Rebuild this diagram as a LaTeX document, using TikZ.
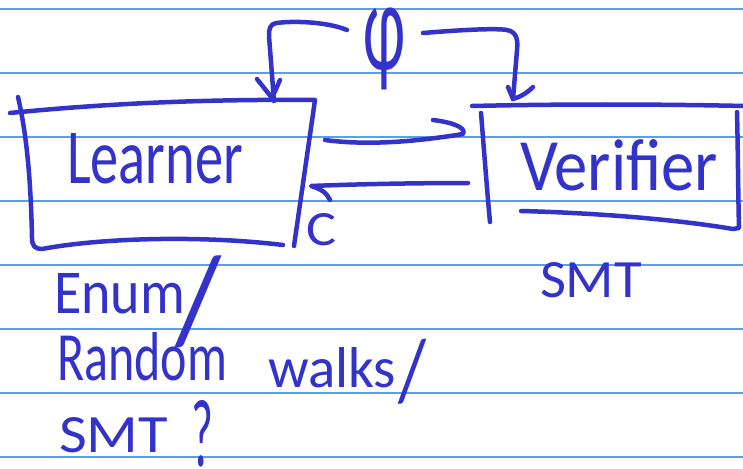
\documentclass[tikz,border=0pt]{standalone}
\usepackage{fontspec}
\setmainfont{Carlito}
\usepackage{graphicx}
\definecolor{ink}{RGB}{51,51,204}
\definecolor{rule}{RGB}{90,160,232}
% a word squeezed into a given width and height (pt)
\newcommand{\hw}[3]{\resizebox{#1pt}{#2pt}{#3}}
% same, using height plus depth
\newcommand{\hwt}[3]{\resizebox*{#1pt}{#2pt}{#3}}

\begin{document}
\begin{tikzpicture}[x=1pt,y=-1pt,
  pen/.style={draw=ink,line width=4.5pt,line cap=round,line join=round},
  word/.style={inner sep=0pt,outer sep=0pt,text=ink},
  ruling/.style={draw=rule,line width=1.6pt}]
\fill[white] (0,0) rectangle (743,468);
\useasboundingbox (0,0) rectangle (743,468);

% ruled paper
\foreach \k in {0,...,7} \draw[ruling] (0,{9+64*\k}) -- (743,{9+64*\k});

% ---- Learner box ----
\node[word,anchor=base west] (learner) at (67,183) {\hw{176}{50}{Learner}};
\coordinate (lTL) at (10,113);
\coordinate (lTR) at (315,100);
\coordinate (lBR) at (294,246);
\draw[pen] (lTL) .. controls (100,104) and (200,99) .. (lTR) -- (lBR);
\draw[pen] (18,97) .. controls (28,140) and (31,190) .. (32,238)
           .. controls (32,246) and (35,249) .. (42,249)
           .. controls (100,238) and (200,235) .. (283,245);

% ---- Verifier box ----
\node[word,anchor=base west] (verifier) at (520,190) {\hw{198}{51}{Verifier}};
\draw[pen] (472,106) .. controls (560,104) and (650,104) .. (745,106);
\draw[pen] (481,113) .. controls (484,150) and (487,190) .. (490,222);
\draw[pen] (521,211) .. controls (600,213) and (680,220) .. (733,229)
           -- (739,228) .. controls (738,190) and (738,150) .. (737,112);

% ---- phi loop over the top ----
\node[word] (phi) at (384,49) {\hwt{42}{82}{φ}};
\coordinate (phiL) at (347,30);
\coordinate (phiR) at (423,33);
\coordinate (tipL) at (274,101);
\coordinate (tipR) at (513,99);
\draw[pen] (phiL) .. controls (325,21) and (290,21) .. (277,23)
           .. controls (270,24) and (269,28) .. (269,36) -- (tipL);
\draw[pen] (257,79) -- (272,98) -- (280,80);
\draw[pen] (phiR) .. controls (460,30) and (495,28) .. (507,30)
           .. controls (517,32) and (518,40) .. (517,50) -- (tipR);
\draw[pen] (508,87) -- (513,99) .. controls (520,97) and (527,93) .. (533,87);

% ---- arrows between the boxes ----
\coordinate (toV) at (463,134);
\coordinate (fromL) at (325,140);
\draw[pen] (fromL) .. controls (370,146) and (420,141) .. (toV)
           .. controls (467,127) and (450,122) .. (433,120);
\coordinate (fromV) at (468,183);
\coordinate (toL) at (311,186);
\draw[pen] (fromV) .. controls (420,183) and (360,184) .. (toL)
           .. controls (321,189) and (327,193) .. (330,200);
\node[word,anchor=base west] (cex) at (306,245) {\hw{30}{32}{C}};

% ---- notes under the boxes ----
\node[word,anchor=base west] (smtV) at (540,297) {\hw{102}{35}{SMT}};
\node[word,anchor=base west] (enum) at (54,313) {\hw{131}{40}{Enum}};
\node[word] (slashA) at (199,302) {\hwt{46}{92}{/}};
\node[word,anchor=base west] (random) at (57,380) {\hw{170}{48}{Random}};
\node[word,anchor=base west] (walks) at (268,387) {\hw{128}{40}{walks}};
\node[word] (slashB) at (412,372) {\hwt{28}{65}{/}};
\node[word,anchor=base west] (smtL) at (59,452) {\hw{109}{35}{SMT}};
\node[word,anchor=base west] (quest) at (191,466) {\hw{22}{66}{?}};
\end{tikzpicture}
\end{document}
